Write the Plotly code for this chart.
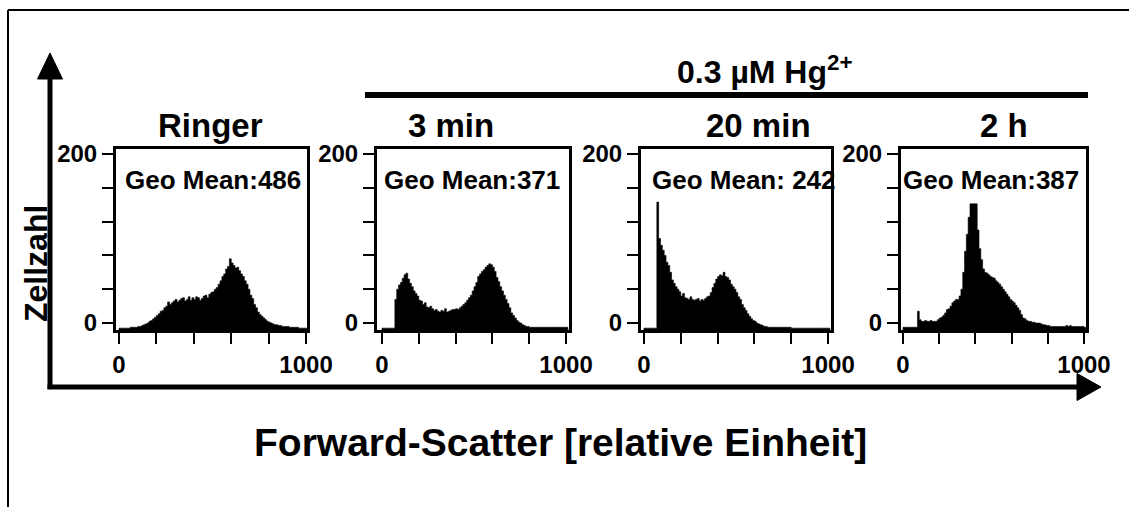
import plotly.graph_objects as go

# ---------------- data ----------------
panel_titles = ["Ringer", "3 min", "20 min", "2 h"]
geo_means = ["Geo Mean:486", "Geo Mean:371", "Geo Mean: 242", "Geo Mean:387"]
group_label = "0.3 µM Hg<sup>2+</sup>"
y_axis_label = "Zellzahl"
x_axis_label = "Forward-Scatter [relative Einheit]"

channels = list(range(0, 1001, 10))  # forward-scatter channel (bin start)

counts_ringer = [
    -6, -6, -6, -6, -6, -6, -5, -5, -5, -5,
    -4, -4, -3, -2, -1, 0, 2, 3, 5, 7,
    9, 11, 14, 15, 18, 20, 25, 22, 24, 26,
    28, 25, 27, 29, 30, 26, 28, 31, 27, 30,
    28, 31, 30, 27, 29, 32, 33, 30, 34, 36,
    37, 40, 42, 46, 50, 55, 58, 64, 67, 76,
    71, 68, 65, 66, 62, 58, 55, 50, 46, 40,
    33, 29, 22, 18, 13, 10, 8, 6, 4, 2,
    1, 0, -1, -2, -2, -3, -3, -4, -4, -4,
    -4, -5, -5, -5, -5, -5, -6, -6, -6, -6, -6,
]
counts_3min = [
    -6, -6, -6, -6, -6, -6, -6, 28, 40, 45,
    48, 53, 57, 59, 52, 47, 43, 38, 35, 32,
    27, 26, 22, 24, 19, 18, 20, 17, 15, 16,
    14, 13, 15, 14, 17, 13, 14, 15, 16, 16,
    17, 16, 18, 20, 22, 24, 27, 30, 33, 38,
    43, 48, 55, 58, 61, 63, 66, 68, 70, 69,
    66, 61, 54, 49, 43, 38, 33, 28, 23, 18,
    12, 9, 6, 3, 1, 0, -2, -3, -4, -4,
    -5, -5, -5, -5, -5, -5, -5, -5, -5, -5,
    -5, -5, -5, -5, -5, -5, -5, -5, -5, -5, -5,
]
counts_20min = [
    -6, -6, -6, -6, -6, -6, -6, 143, 100, 92,
    86, 80, 72, 68, 60, 51, 47, 43, 40, 37,
    32, 35, 30, 29, 28, 31, 28, 27, 28, 29,
    26, 28, 27, 29, 31, 32, 36, 42, 47, 52,
    55, 57, 56, 60, 55, 54, 51, 46, 43, 40,
    36, 31, 28, 22, 18, 15, 11, 8, 5, 3,
    2, 0, -1, -2, -3, -4, -4, -5, -5, -5,
    -5, -5, -5, -5, -5, -5, -5, -5, -5, -5,
    -6, -6, -6, -6, -6, -6, -6, -6, -6, -6,
    -6, -6, -6, -6, -6, -6, -6, -6, -6, -6, -6,
]
counts_2h = [
    -5, -5, -5, -5, -5, -5, -5, -5, 14, 4,
    2, 2, 3, 2, 2, 3, 2, 2, 2, 4,
    6, 7, 9, 12, 16, 17, 20, 24, 26, 28,
    28, 32, 40, 60, 85, 105, 125, 141, 141, 141,
    141, 110, 88, 75, 64, 60, 59, 57, 55, 54,
    53, 50, 48, 46, 43, 40, 37, 34, 31, 28,
    26, 24, 21, 18, 15, 10, 6, 5, 3, 2,
    2, 1, 1, 0, 0, 0, -1, -2, -2, -3,
    -3, -4, -4, -4, -4, -4, -4, -4, -4, -4,
    -3, -4, -3, -4, -4, -4, -4, -4, -4, -4, -5,
]
all_counts = [counts_ringer, counts_3min, counts_20min, counts_2h]

x_tickvals = [0, 200, 400, 600, 800, 1000]
x_ticktext = ["0", "", "", "", "", "1000"]
y_tickvals = [0, 40, 80, 120, 160, 200]
y_ticktext = ["0", "", "", "", "", "200"]

# ---------------- layout helpers (pixel geometry) ----------------
W, H = 1129, 507
def px(x):
    return x / W
def py(y):
    return 1 - y / H

FONT = "Liberation Sans, Arial, sans-serif"
YMIN, YMAX = -8.2, 205.8
STEP = 10

panel_x = [(116, 307), (377, 569), (641, 831), (901, 1086)]
panel_y = (149, 330)
x_ranges = [(-16, 1005), (-27, 1016), (-16, 1016), (-11, 1011)]
title_x = [210, 451, 758, 1004]
geo_x = [213, 472, 744, 991]

fig = go.Figure()
layout = dict(
    width=W, height=H, autosize=False,
    margin=dict(l=0, r=0, t=0, b=0, pad=0, autoexpand=False),
    paper_bgcolor="white", plot_bgcolor="white",
    showlegend=False,
    font=dict(family=FONT, color="black"),
)

annotations = []
for i, counts in enumerate(all_counts):
    n = "" if i == 0 else str(i + 1)
    xs = [channels[0]] + channels + [channels[-1] + STEP]
    ys = [YMIN] + counts + [YMIN]
    fig.add_trace(go.Scatter(
        x=xs, y=ys, mode="lines", line=dict(shape="hv", color="black", width=0.6),
        fill="toself", fillcolor="black", hoverinfo="skip",
        xaxis="x" + n, yaxis="y" + n,
    ))
    common = dict(
        showline=True, linewidth=3, linecolor="black", mirror=True,
        ticks="outside", ticklen=11, tickwidth=2, tickcolor="black",
        tickfont=dict(family=FONT, size=24, color="black", weight="bold"),
        showgrid=False, zeroline=False, fixedrange=True, automargin=False,
    )
    layout["xaxis" + n] = dict(
        domain=[px(panel_x[i][0]), px(panel_x[i][1])],
        anchor="y" + n, range=list(x_ranges[i]),
        tickvals=x_tickvals, ticktext=x_ticktext, **common,
    )
    layout["yaxis" + n] = dict(
        domain=[py(panel_y[1]), py(panel_y[0])],
        anchor="x" + n, range=[YMIN, YMAX],
        tickvals=y_tickvals, ticktext=y_ticktext, **common,
    )
    annotations.append(dict(
        text=panel_titles[i], x=px(title_x[i]), y=py(126), xref="paper", yref="paper",
        showarrow=False, xanchor="center", yanchor="middle",
        font=dict(family=FONT, size=33, color="black", weight="bold"),
    ))
    annotations.append(dict(
        text=geo_means[i], x=px(geo_x[i]), y=py(180), xref="paper", yref="paper",
        showarrow=False, xanchor="center", yanchor="middle",
        font=dict(family=FONT, size=26, color="black", weight="bold"),
    ))

annotations.append(dict(
    text=group_label, x=px(765), y=py(70), xref="paper", yref="paper",
    showarrow=False, xanchor="center", yanchor="middle",
    font=dict(family=FONT, size=32, color="black", weight="bold"),
))
annotations.append(dict(
    text=y_axis_label, x=px(36), y=py(264), xref="paper", yref="paper",
    showarrow=False, xanchor="center", yanchor="middle", textangle=-90,
    font=dict(family=FONT, size=32, color="black", weight="bold"),
))
annotations.append(dict(
    text=x_axis_label, x=px(560), y=py(442), xref="paper", yref="paper",
    showarrow=False, xanchor="center", yanchor="middle",
    font=dict(family=FONT, size=39, color="black", weight="bold"),
))

shapes = [
    # outer frame (top and left edges; the rest is cut off by the image)
    dict(type="line", xref="paper", yref="paper", x0=px(8), y0=py(10), x1=1, y1=py(10),
         line=dict(color="black", width=2)),
    dict(type="line", xref="paper", yref="paper", x0=px(8), y0=py(10), x1=px(8), y1=0,
         line=dict(color="black", width=2)),
    # group bar
    dict(type="line", xref="paper", yref="paper", x0=px(365), y0=py(95), x1=px(1088), y1=py(95),
         line=dict(color="black", width=6)),
    # y arrow
    dict(type="line", xref="paper", yref="paper", x0=px(50), y0=py(389), x1=px(50), y1=py(72),
         line=dict(color="black", width=5)),
    dict(type="path", xref="paper", yref="paper",
         path=f"M {px(50)},{py(53)} L {px(37.5)},{py(79)} L {px(62.5)},{py(79)} Z",
         fillcolor="black", line=dict(color="black", width=1)),
    # x arrow
    dict(type="line", xref="paper", yref="paper", x0=px(47.5), y0=py(387), x1=px(1082), y1=py(387),
         line=dict(color="black", width=5)),
    dict(type="path", xref="paper", yref="paper",
         path=f"M {px(1101)},{py(387)} L {px(1077)},{py(373.5)} L {px(1077)},{py(400.5)} Z",
         fillcolor="black", line=dict(color="black", width=1)),
]

layout["annotations"] = annotations
layout["shapes"] = shapes
fig.update_layout(**layout)

page_css = (
    "var s=document.createElement('style');"
    "s.innerHTML='html,body{margin:0;padding:0;overflow:hidden;}';"
    "document.head.appendChild(s);"
)
fig.write_html(
    "out.html",
    config={"displayModeBar": False},
    post_script=page_css,
)
